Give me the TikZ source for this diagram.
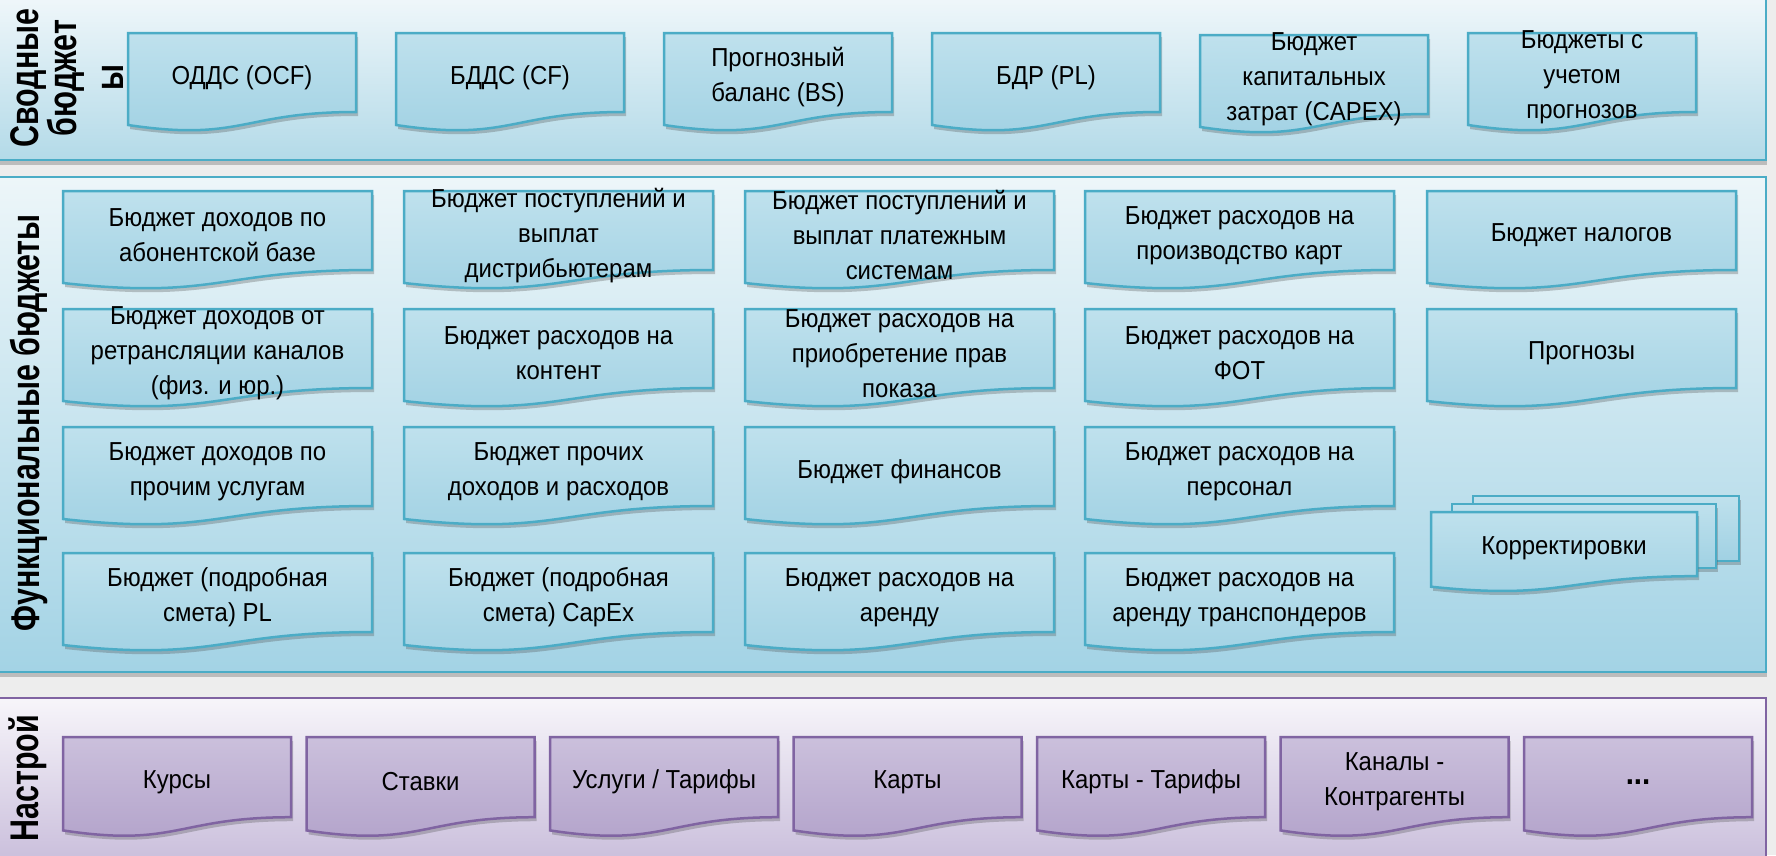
\documentclass[tikz,border=0pt]{standalone}
\usepackage{fontspec}
\setmainfont{Liberation Sans}[FakeStretch=0.92]
\newfontfamily\lblfont{Liberation Sans}[FakeStretch=0.76]
\usetikzlibrary{shadows}
\definecolor{accteal}{HTML}{4BACC6}
\definecolor{accpurp}{HTML}{8064A2}
\definecolor{bgcol}{HTML}{EDEDED}
\definecolor{pTopA}{HTML}{F2F8FB}
\definecolor{pTopB}{HTML}{B3DAE8}
\definecolor{pMidA}{HTML}{EDF6F9}
\definecolor{pMidB}{HTML}{A3D3E5}
\definecolor{pBotA}{HTML}{F7F5FA}
\definecolor{pBotB}{HTML}{C6BAD9}
\definecolor{dBlueA}{HTML}{BFE1ED}
\definecolor{dBlueB}{HTML}{A0D1E3}
\definecolor{dPurpA}{HTML}{CBC0DC}
\definecolor{dPurpB}{HTML}{B2A2CA}
\tikzset{
  panelshadow/.style={drop shadow={shadow xshift=1pt, shadow yshift=-5pt, opacity=.3, fill=black!70}},
  panelblueA/.style={draw=accteal, line width=2.5pt, top color=pTopA, bottom color=pTopB, panelshadow},
  panelblueB/.style={draw=accteal, line width=2.5pt, top color=pMidA, bottom color=pMidB, panelshadow},
  panelpurp/.style={draw=accpurp, line width=2.5pt, top color=pBotA, bottom color=pBotB},
  docshadow/.style={drop shadow={shadow xshift=2pt, shadow yshift=-4pt, opacity=.3, fill=black!70}},
  bluedoc/.style={draw=accteal, line width=2.5pt, top color=dBlueA, bottom color=dBlueB, docshadow},
  purpdoc/.style={draw=accpurp, line width=2.5pt, top color=dPurpA, bottom color=dPurpB, docshadow},
  doctext/.style={align=center, inner sep=0pt, text=black, font=\fontsize{26}{35}\selectfont},
  lbl/.style={rotate=90, align=center, inner sep=0pt, text=black, font=\lblfont\bfseries\fontsize{40}{33}\selectfont}
}
% #1 name, #2 left x, #3 top y, #4 width, #5 height, #6 style, #7 text
\newcommand\docbox[7]{%
  \begin{scope}[shift={(#2,#3)}]
    \pgfmathsetmacro\dw{#4}\pgfmathsetmacro\dh{#5}
    \path[#6] (0,0) -- (\dw,0) -- (\dw,0.802*\dh)
      .. controls (0.5*\dw,0.802*\dh) and (0.5*\dw,1.107*\dh) .. (0,0.934*\dh) -- cycle;
    \node[doctext] (#1) at (0.5*\dw,0.45*\dh) {#7};
  \end{scope}}
\begin{document}
\begin{tikzpicture}[x=1pt,y=-1pt]
\useasboundingbox (0,0) rectangle (1776,855);
\fill[bgcol] (0,0) rectangle (1776,855);
% panels
\path[panelblueA] (-10,-10) rectangle (1766,160);
\path[panelblueB] (-10,177) rectangle (1766,672);
\path[panelpurp] (-10,698) rectangle (1766,875);
% side labels
\node[lbl] (lblTop) at (67,78) {Сводные\\бюджет\\[14pt]ы};
\node[lbl] (lblMid) at (29,423) {Функциональные бюджеты};
\node[lbl] (lblBot) at (28,778) {Настрой};
% top row
\docbox{t1}{128}{33}{228}{98.5}{bluedoc}{ОДДС (OCF)}
\docbox{t2}{396}{33}{228}{98.5}{bluedoc}{БДДС (CF)}
\docbox{t3}{664}{33}{228}{98.5}{bluedoc}{Прогнозный\\баланс (BS)}
\docbox{t4}{932}{33}{228}{98.5}{bluedoc}{БДР (PL)}
\docbox{t5}{1200}{35}{228}{98.5}{bluedoc}{Бюджет\\капитальных\\затрат (CAPEX)}
\docbox{t6}{1468}{33}{228}{98.5}{bluedoc}{Бюджеты с\\учетом\\прогнозов}
% functional budgets grid
\docbox{f11}{63}{191}{309}{98.5}{bluedoc}{Бюджет доходов по\\абонентской базе}
\docbox{f12}{404}{191}{309}{98.5}{bluedoc}{Бюджет поступлений и\\выплат\\дистрибьютерам}
\docbox{f13}{745}{191}{309}{98.5}{bluedoc}{Бюджет поступлений и\\выплат платежным\\системам}
\docbox{f14}{1085}{191}{309}{98.5}{bluedoc}{Бюджет расходов на\\производство карт}
\docbox{f15}{1427}{191}{309}{98.5}{bluedoc}{Бюджет налогов}
\docbox{f21}{63}{309}{309}{98.5}{bluedoc}{Бюджет доходов от\\ретрансляции каналов\\(физ. и юр.)}
\docbox{f22}{404}{309}{309}{98.5}{bluedoc}{Бюджет расходов на\\контент}
\docbox{f23}{745}{309}{309}{98.5}{bluedoc}{Бюджет расходов на\\приобретение прав\\показа}
\docbox{f24}{1085}{309}{309}{98.5}{bluedoc}{Бюджет расходов на\\ФОТ}
\docbox{f25}{1427}{309}{309}{98.5}{bluedoc}{Прогнозы}
\docbox{f31}{63}{427}{309}{98.5}{bluedoc}{Бюджет доходов по\\прочим услугам}
\docbox{f32}{404}{427}{309}{98.5}{bluedoc}{Бюджет прочих\\доходов и расходов}
\docbox{f33}{745}{427}{309}{98.5}{bluedoc}{Бюджет финансов}
\docbox{f34}{1085}{427}{309}{98.5}{bluedoc}{Бюджет расходов на\\персонал}
\docbox{f41}{63}{553}{309}{98.5}{bluedoc}{Бюджет (подробная\\смета) PL}
\docbox{f42}{404}{553}{309}{98.5}{bluedoc}{Бюджет (подробная\\смета) CapEx}
\docbox{f43}{745}{553}{309}{98.5}{bluedoc}{Бюджет расходов на\\аренду}
\docbox{f44}{1085}{553}{309}{98.5}{bluedoc}{Бюджет расходов на\\аренду транспондеров}
% corrections (multi-document)
\path[bluedoc] (1473,496) rectangle (1739,561);
\path[bluedoc] (1452,504) rectangle (1716,568);
\docbox{corr}{1431}{512}{266}{80}{bluedoc}{Корректировки}
% settings row
\docbox{s1}{63}{737}{228}{100}{purpdoc}{Курсы}
\docbox{s2}{306.5}{737}{228}{100}{purpdoc}{Ставки}
\docbox{s3}{550}{737}{228}{100}{purpdoc}{Услуги / Тарифы}
\docbox{s4}{793.5}{737}{228}{100}{purpdoc}{Карты}
\docbox{s5}{1037}{737}{228}{100}{purpdoc}{Карты - Тарифы}
\docbox{s6}{1280.5}{737}{228}{100}{purpdoc}{Каналы -\\Контрагенты}
\docbox{s7}{1524}{737}{228}{100}{purpdoc}{\fontsize{32}{35}\selectfont\bfseries ...}
\end{tikzpicture}
\end{document}
